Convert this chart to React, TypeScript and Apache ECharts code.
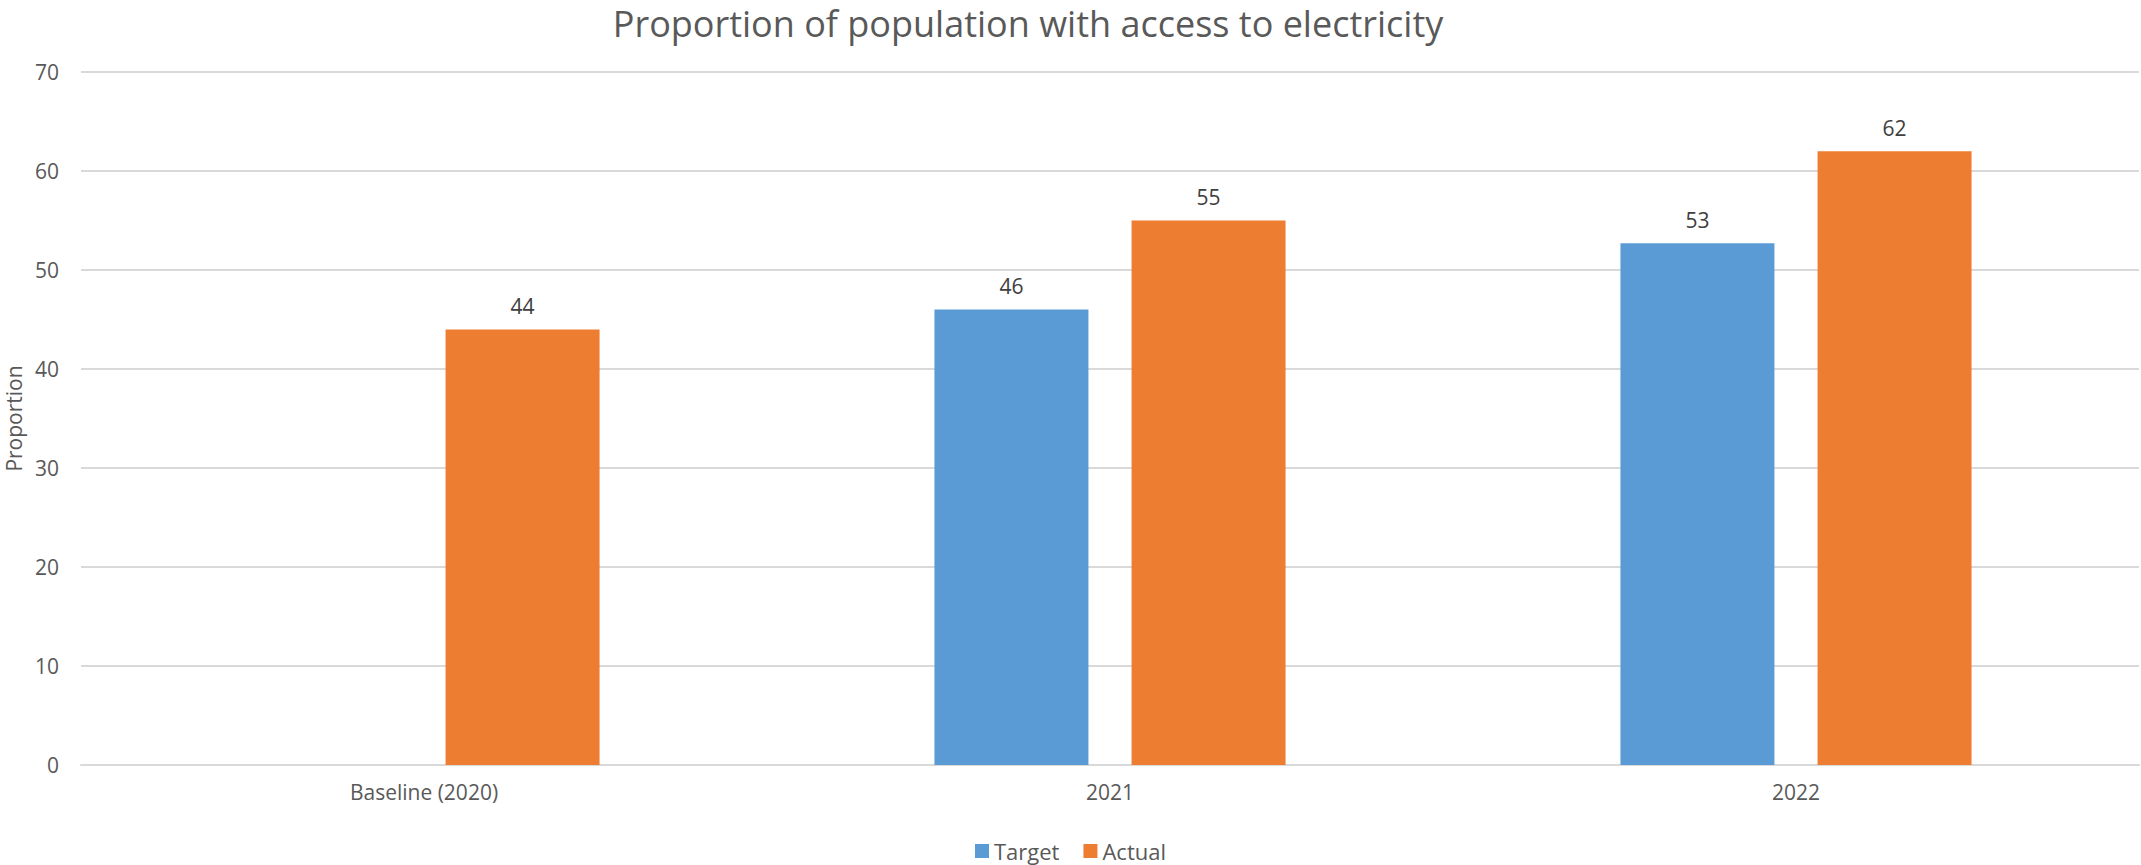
import React, { useEffect, useRef } from "react";
import * as echarts from "echarts";

const categories = ["Baseline (2020)", "2021", "2022"];
const targetValues: (number | null)[] = [null, 46, 52.7];
const actualValues: number[] = [44, 55, 62];
const seriesNames = ["Target", "Actual"];

export default function App() {
  const ref = useRef<HTMLDivElement>(null);
  useEffect(() => {
    if (!ref.current) return;
    const chart = echarts.init(ref.current, undefined, { renderer: "svg" });
    const font = "'Open Sans', 'Noto Sans', sans-serif";
    const labelCfg = {
      show: true,
      position: "top",
      distance: 13,
      fontSize: 21,
      fontFamily: font,
      color: "#404040",
      formatter: (p: any) => (p.value == null ? "" : String(Math.round(p.value))),
    };
    chart.setOption({
      animation: false,
      backgroundColor: "#ffffff",
      textStyle: { fontFamily: font },
      title: {
        text: "Proportion of population with access to electricity",
        left: 1023,
        textAlign: "center",
        top: 0,
        textStyle: { fontSize: 36, fontWeight: "normal", color: "#595959", fontFamily: font },
      },
      legend: {
        data: seriesNames,
        left: "center",
        top: 835,
        itemWidth: 14,
        itemHeight: 14,
        itemGap: 24,
        icon: "rect",
        textStyle: { fontSize: 22, color: "#595959", fontFamily: font },
      },
      grid: {
        left: 81,
        right: 2,
        top: 72,
        bottom: 100,
        containLabel: false,
        outerBoundsMode: "none",
      },
      xAxis: {
        type: "category",
        data: categories,
        axisLine: { lineStyle: { color: "#D9D9D9", width: 2 } },
        axisTick: { show: false },
        axisLabel: { fontSize: 21, color: "#595959", margin: 16, fontFamily: font },
      },
      yAxis: {
        type: "value",
        min: 0,
        max: 70,
        interval: 10,
        name: "Proportion",
        nameLocation: "middle",
        nameRotate: 90,
        nameGap: 56,
        nameTextStyle: { fontSize: 21, color: "#595959", fontFamily: font },
        axisLine: { show: false },
        axisTick: { show: false },
        axisLabel: { fontSize: 21, color: "#595959", margin: 22, fontFamily: font },
        splitLine: { lineStyle: { color: "#D9D9D9", width: 2 } },
      },
      series: [
        {
          name: seriesNames[0],
          type: "bar",
          data: targetValues,
          barWidth: 154,
          barGap: "28%",
          itemStyle: { color: "#5B9BD5" },
          label: labelCfg,
        },
        {
          name: seriesNames[1],
          type: "bar",
          data: actualValues,
          barWidth: 154,
          barGap: "28%",
          itemStyle: { color: "#ED7D31" },
          label: labelCfg,
        },
      ],
    });
    return () => chart.dispose();
  }, []);
  return (
    <div
      ref={ref}
      style={{ position: "fixed", left: 0, top: 0, width: 2141, height: 865 }}
    />
  );
}
